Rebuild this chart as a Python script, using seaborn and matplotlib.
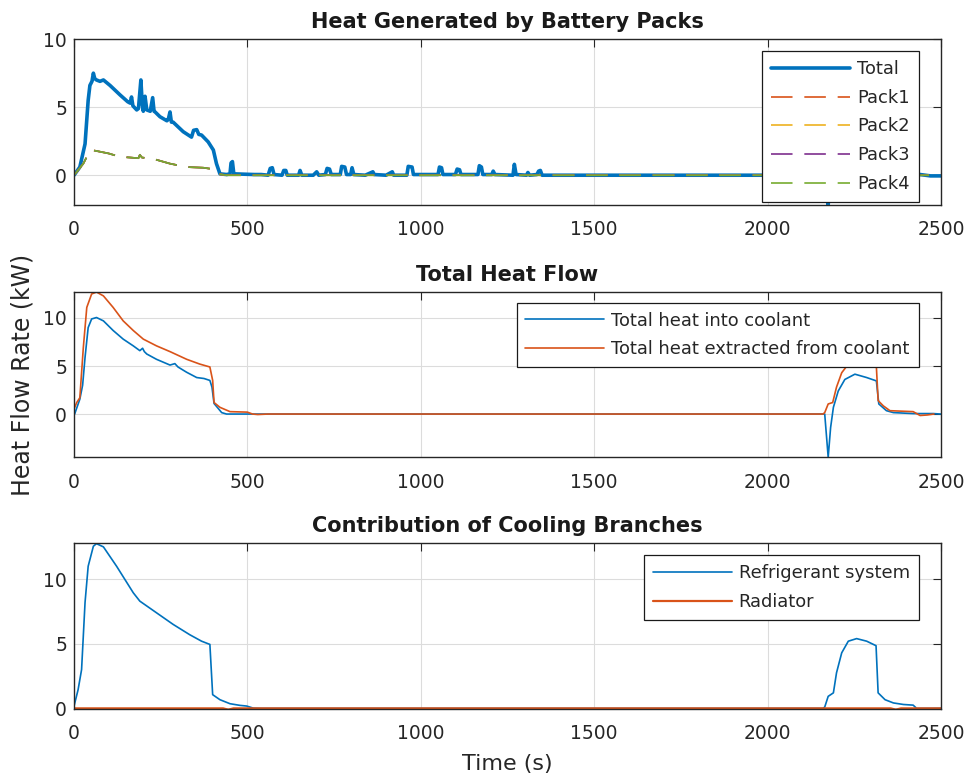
import numpy as np
import matplotlib
matplotlib.use("Agg")
import matplotlib.pyplot as plt
import seaborn as sns

# --- data (time in s, heat in kW) ---
t_total = [0, 3, 17, 32, 41, 46, 52, 56, 60, 65, 75, 85, 104, 133, 155, 162, 166, 170,
           181, 186, 193, 197, 200, 205, 210, 220, 227, 231, 234, 248, 268, 272, 277, 281,
           286, 315, 339, 345, 354, 360, 368, 387, 402, 411, 421, 440, 450, 453, 457, 461,
           520, 540, 560, 566, 572, 577, 600, 605, 611, 615, 648, 652, 657, 690, 700, 706,
           725, 730, 737, 742, 768, 772, 781, 786, 798, 802, 807, 840, 862, 866, 900, 918,
           922, 960, 964, 975, 979, 1050, 1054, 1060, 1064, 1100, 1105, 1112, 1116, 1165,
           1169, 1175, 1179, 1205, 1209, 1214, 1266, 1270, 1275, 1305, 1309, 1314, 1335,
           1340, 1345, 1350, 2170, 2175, 2180, 2440, 2470, 2500]
q_total = [0.0, 0.1, 0.6, 2.3, 5.5, 6.6, 6.9, 7.5, 7.1, 7.0, 6.9, 7.0, 6.6, 5.9, 5.4, 5.3, 5.75, 5.1,
           4.8, 4.9, 7.0, 5.2, 4.7, 5.8, 4.8, 4.7, 5.7, 4.7, 4.65, 4.3, 4.0, 4.1, 4.65, 3.9,
           3.9, 3.2, 2.8, 3.3, 3.35, 3.0, 2.95, 2.45, 1.85, 0.85, 0.1, 0.05, 0.1, 0.9, 1.0, 0.1,
           0.05, 0.05, 0.0, 0.5, 0.55, 0.05, 0.0, 0.35, 0.35, 0.0, 0.0, 0.35, 0.0, 0.0, 0.25, 0.0,
           0.05, 0.5, 0.45, 0.05, 0.05, 0.65, 0.6, 0.05, 0.05, 0.55, 0.05, 0.0, 0.25, 0.05, 0.0, 0.25,
           0.0, 0.0, 0.65, 0.6, 0.05, 0.05, 0.6, 0.55, 0.05, 0.05, 0.45, 0.4, 0.05, 0.05,
           0.7, 0.6, 0.05, 0.05, 0.3, 0.05, 0.0, 0.8, 0.05, 0.0, 0.2, 0.0, 0.05,
           0.3, 0.35, 0.0, 0.0, -2.2, 0.0, 0.05, -0.05, -0.05]

t_pack = [0, 10, 27, 40, 51, 71, 100, 133, 162, 186, 190, 196, 229, 277, 325, 373, 400,
          412, 440, 2170, 2175, 2180, 2500]
q_pack = [0.0, 0.3, 0.85, 1.5, 1.85, 1.75, 1.6, 1.35, 1.3, 1.25, 1.5, 1.3, 1.2, 0.85, 0.6, 0.55, 0.45,
          0.1, 0.0, 0.0, -0.55, 0.0, 0.0]

t_into = [0, 2, 17, 25, 32, 41, 51, 65, 85, 113, 142, 171, 190, 198, 203, 210, 238, 277, 291,
          300, 325, 354, 375, 392, 398, 404, 411, 426, 440, 2165, 2175, 2182, 2190, 2204, 2223,
          2252, 2286, 2314, 2321, 2343, 2363, 2420, 2478, 2500]
q_into = [0.0, 0.0, 1.55, 3.0, 5.9, 9.0, 9.9, 10.05, 9.7, 8.7, 7.8, 7.1, 6.6, 6.85, 6.5, 6.25, 5.7, 5.1, 5.25,
          4.9, 4.35, 3.8, 3.7, 3.5, 2.8, 1.1, 0.8, 0.15, 0.0, 0.0, -4.5, -1.4, 0.7, 2.4, 3.6,
          4.15, 3.8, 3.45, 1.05, 0.35, 0.15, 0.05, 0.05, 0.0]

t_extr = [0, 8, 17, 27, 37, 51, 65, 85, 113, 142, 171, 200, 238, 277, 325, 363, 392, 400, 404,
          421, 450, 500, 515, 530, 560, 2160, 2165, 2175, 2188, 2199, 2214, 2233, 2257, 2286, 2314,
          2319, 2334, 2353, 2420, 2440, 2460, 2480]
q_extr = [0.5, 1.2, 1.7, 6.9, 11.1, 12.5, 12.7, 12.3, 11.1, 9.7, 8.7, 7.8, 7.1, 6.5, 5.7, 5.2, 4.9, 3.5, 1.2,
          0.7, 0.25, 0.2, 0.0, -0.05, 0.0, 0.0, 0.15, 1.05, 1.2, 2.8, 4.3, 5.2, 5.4, 5.2, 4.9,
          1.4, 0.85, 0.35, 0.25, -0.15, -0.1, 0.0]

t_refr = [0, 12, 22, 32, 41, 56, 65, 85, 123, 171, 190, 238, 286, 334, 368, 392, 400, 421, 450,
          479, 498, 517, 540, 2160, 2165, 2175, 2190, 2199, 2214, 2233, 2257, 2286, 2313, 2319, 2339,
          2363, 2392, 2420, 2430, 2500]
q_refr = [0.15, 1.45, 3.0, 8.2, 11.0, 12.55, 12.75, 12.5, 11.0, 8.95, 8.3, 7.4, 6.5, 5.7, 5.2, 4.95, 1.06, 0.67, 0.36,
          0.23, 0.18, 0.02, 0.0, 0.0, 0.1, 0.93, 1.2, 2.75, 4.3, 5.2, 5.4, 5.2, 4.85, 1.2, 0.67,
          0.42, 0.3, 0.25, 0.0, 0.0]

t_rad = [0, 430, 445, 460, 2355, 2370, 2385, 2500]
q_rad = [0.0, 0.0, -0.1, 0.0, 0.0, -0.1, 0.0, 0.0]

pack_names = ["Pack1", "Pack2", "Pack3", "Pack4"]
xticks = [0, 500, 1000, 1500, 2000, 2500]
yticks = [0, 5, 10]

# MATLAB default colour order
c_blue, c_orange, c_yellow, c_purple, c_green = "#0072BD", "#D95319", "#EDB120", "#7E2F8E", "#77AC30"
pack_colors = [c_orange, c_yellow, c_purple, c_green]

sns.set_theme(style="white")
plt.rcParams["font.family"] = ["DejaVu Sans"]
plt.rcParams["lines.scale_dashes"] = False
txt = "#262626"

fig = plt.figure(figsize=(9.73, 7.83), dpi=100)
L, W = 0.076, 0.891
ax1 = fig.add_axes([L, 0.738, W, 0.212])
ax2 = fig.add_axes([L, 0.416, W, 0.211])
ax3 = fig.add_axes([L, 0.0945, W, 0.212])

# top: heat generated
sns.lineplot(x=t_total, y=q_total, ax=ax1, color=c_blue, lw=2.6, label="Total", estimator=None)
for name, col in zip(pack_names, pack_colors):
    sns.lineplot(x=t_pack, y=q_pack, ax=ax1, color=col, lw=1.2, dashes=False,
                 linestyle=(0, (15.5, 8.5)), label=name, estimator=None)
ax1.set_ylim(-2.2, 10)
ax1.set_title("Heat Generated by Battery Packs")

# middle: total heat flow
sns.lineplot(x=t_into, y=q_into, ax=ax2, color=c_blue, lw=1.2, label="Total heat into coolant", estimator=None)
sns.lineplot(x=t_extr, y=q_extr, ax=ax2, color=c_orange, lw=1.2,
             label="Total heat extracted from coolant", estimator=None)
ax2.set_ylim(-4.5, 12.7)
ax2.set_title("Total Heat Flow")
ax2.set_ylabel("Heat Flow Rate (kW)", fontsize=17, color=txt)
ax2.yaxis.set_label_coords(-0.046, 0.5)

# bottom: cooling branches
sns.lineplot(x=t_refr, y=q_refr, ax=ax3, color=c_blue, lw=1.2, label="Refrigerant system", estimator=None)
sns.lineplot(x=t_rad, y=q_rad, ax=ax3, color=c_orange, lw=1.6, label="Radiator", estimator=None)
ax3.set_ylim(-0.05, 12.8)
ax3.set_title("Contribution of Cooling Branches")
ax3.set_xlabel("Time (s)", fontsize=16, color=txt)
ax3.xaxis.set_label_coords(0.5, -0.27)

legend_tops = [0.9277, 0.935, 0.925]
for ax, top in zip([ax1, ax2, ax3], legend_tops):
    ax.set_xlim(0, 2500)
    ax.set_xticks(xticks)
    ax.set_yticks(yticks)
    ax.grid(True, color="#dcdcdc", lw=0.8)
    ax.set_axisbelow(True)
    ax.tick_params(direction="in", length=6, width=0.8, top=True, right=True,
                   labelsize=13.5, labelcolor=txt, color=txt)
    ax.tick_params(axis="x", pad=11)
    ax.tick_params(axis="y", pad=5)
    for sp in ax.spines.values():
        sp.set_color(txt)
        sp.set_linewidth(1.0)
    ax.set_title(ax.get_title(), pad=8, fontsize=15, fontweight="bold", color="#1a1a1a")
    if ax is not ax2:
        ax.set_ylabel("")
    if ax is not ax3:
        ax.set_xlabel("")
    leg = ax.legend(loc="upper right", bbox_to_anchor=(0.9745, top), borderaxespad=0,
                    fontsize=12.85, handlelength=4.42, handletextpad=0.4, borderpad=0.5,
                    labelspacing=0.6, fancybox=False, framealpha=1, edgecolor="#1a1a1a")
    leg.get_frame().set_linewidth(0.9)
    for t in leg.get_texts():
        t.set_color(txt)

fig.savefig("out.png", dpi=100, facecolor="white")
